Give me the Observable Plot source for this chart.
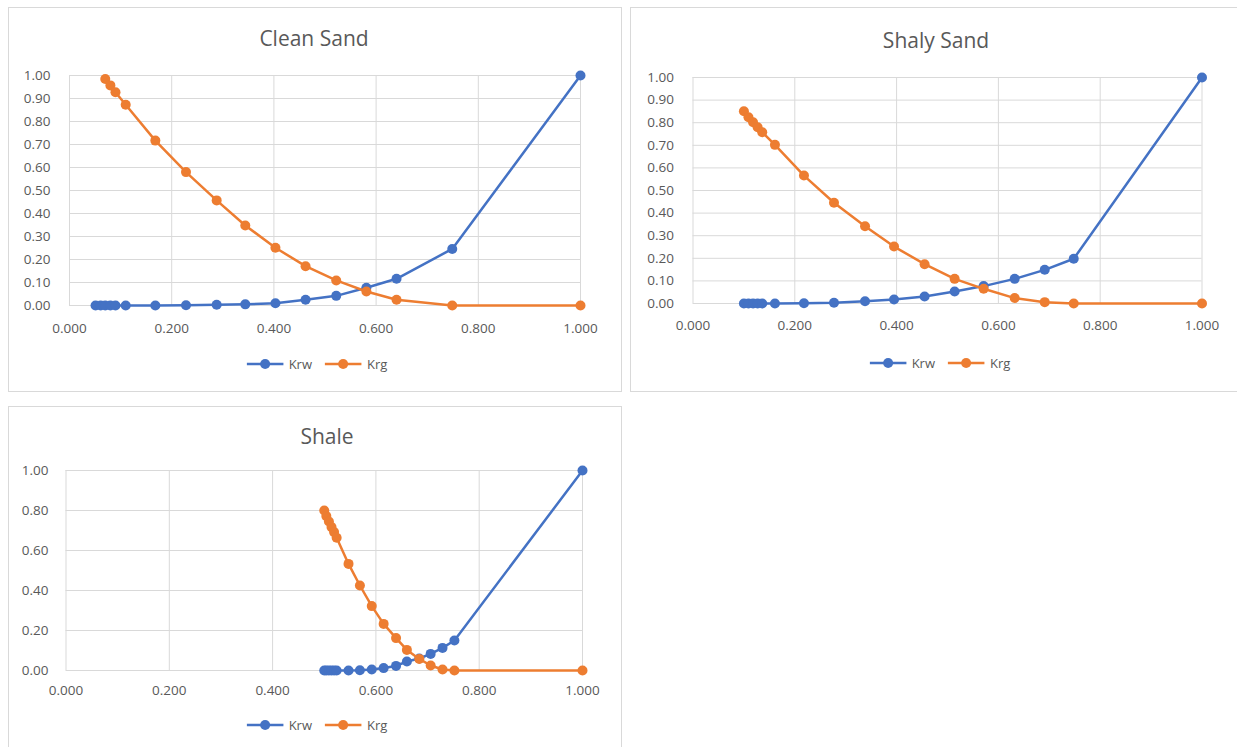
<!DOCTYPE html>
<html>
<head>
<meta charset="utf-8">
<script src="https://cdn.jsdelivr.net/npm/d3@7"></script>
<script src="https://cdn.jsdelivr.net/npm/@observablehq/plot@0.6"></script>
<style>
  html, body { margin: 0; padding: 0; background: #fff; }
  body { width: 1237px; height: 747px; position: relative; overflow: hidden;
         font-family: "Open Sans", "Noto Sans", sans-serif; color: #595959; }
  .panel { position: absolute; box-sizing: border-box; border: 1px solid #d9d9d9; background: #fff; }
  .panel > svg { position: absolute; }
  .title { position: absolute; transform: translate(-50%, -50%); font-size: 21px; white-space: nowrap; }
  .legend { position: absolute; transform: translate(-50%, -50%); display: flex; align-items: center;
            font-size: 13px; white-space: nowrap; }
  .legend .item { display: flex; align-items: center; }
  .legend .item + .item { margin-left: 13px; }
  .legend svg { display: block; margin-right: 5px; }
</style>
</head>
<body>
<script>
// Relative permeability curves: water (Krw) and gas (Krg) against water saturation (Sw)

const seriesNames = ["Krw", "Krg"];
const seriesColors = ["#4472C4", "#ED7D31"];

const xTicks = [0, 0.2, 0.4, 0.6, 0.8, 1.0];
const yTicksTenths = [0, 0.1, 0.2, 0.3, 0.4, 0.5, 0.6, 0.7, 0.8, 0.9, 1.0];
const yTicksFifths = [0, 0.2, 0.4, 0.6, 0.8, 1.0];

// Clean Sand
const cleanSw  = [0.051, 0.061, 0.070, 0.080, 0.090, 0.110, 0.168, 0.228, 0.288, 0.344, 0.403, 0.462, 0.522, 0.581, 0.640, 0.749, 1.000];
const cleanKrw = [0, 0, 0, 0, 0, 0, 0.000, 0.001, 0.003, 0.005, 0.010, 0.025, 0.042, 0.077, 0.116, 0.246, 1.000];
const cleanKrg = [null, null, 0.985, 0.957, 0.927, 0.873, 0.717, 0.580, 0.457, 0.348, 0.251, 0.171, 0.109, 0.061, 0.025, 0, 0];

// Shaly Sand
const shalySw  = [0.100, 0.109, 0.118, 0.127, 0.136, 0.161, 0.218, 0.277, 0.338, 0.395, 0.455, 0.514, 0.571, 0.632, 0.691, 0.748, 1.000];
const shalyKrw = [0, 0, 0, 0, 0, 0, 0.001, 0.003, 0.010, 0.018, 0.031, 0.053, 0.077, 0.109, 0.149, 0.198, 1.000];
const shalyKrg = [0.851, 0.824, 0.802, 0.780, 0.758, 0.702, 0.566, 0.446, 0.342, 0.252, 0.174, 0.109, 0.065, 0.024, 0.006, 0, 0];

// Shale
const shaleSw  = [0.500, 0.504, 0.509, 0.514, 0.519, 0.524, 0.547, 0.569, 0.592, 0.615, 0.639, 0.660, 0.684, 0.706, 0.729, 0.752, 1.000];
const shaleKrw = [0, 0, 0, 0, 0, 0, 0, 0.001, 0.005, 0.012, 0.023, 0.045, 0.060, 0.083, 0.113, 0.150, 1.000];
const shaleKrg = [0.800, 0.772, 0.745, 0.717, 0.692, 0.664, 0.533, 0.425, 0.322, 0.233, 0.162, 0.103, 0.058, 0.025, 0.005, 0, 0];

function rows(sw, krw, krg) {
  return sw.map((s, i) => ({sw: s, krw: krw[i], krg: krg[i]}));
}

function legendItem(name, color) {
  const item = document.createElement("div");
  item.className = "item";
  item.innerHTML =
    `<svg width="37" height="12"><line x1="0" y1="6" x2="37" y2="6" stroke="${color}" stroke-width="2.5"/>` +
    `<circle cx="18.5" cy="6" r="5" fill="${color}"/></svg><span>${name}</span>`;
  return item;
}

function drawPanel(cfg) {
  const panel = document.createElement("div");
  panel.className = "panel";
  Object.assign(panel.style, {
    left: cfg.box[0] + "px", top: cfg.box[1] + "px",
    width: cfg.box[2] + "px", height: cfg.box[3] + "px"
  });
  document.body.appendChild(panel);
  const ox = cfg.box[0] + 1, oy = cfg.box[1] + 1;

  const title = document.createElement("div");
  title.className = "title";
  title.textContent = cfg.title;
  title.style.left = (cfg.titleAt[0] - ox) + "px";
  title.style.top = (cfg.titleAt[1] - oy) + "px";
  panel.appendChild(title);

  const data = rows(cfg.sw, cfg.krw, cfg.krg);
  const [ml, mt, w, h, mr, mb] = cfg.plot;
  const chart = Plot.plot({
    width: w,
    height: h,
    marginLeft: ml,
    marginRight: mr,
    marginTop: mt,
    marginBottom: mb,
    style: {fontFamily: "'Open Sans', 'Noto Sans', sans-serif", fontSize: "13.5px", color: "#595959", background: "transparent", overflow: "visible"},
    x: {domain: [0, 1], ticks: xTicks, tickFormat: d3.format(".3f"), tickSize: 0, tickPadding: cfg.xPad, label: null},
    y: {domain: [0, 1], ticks: cfg.yTicks, tickFormat: d3.format(".2f"), tickSize: 0, tickPadding: cfg.yPad, label: null},
    marks: [
      Plot.ruleX(xTicks, {x: d => d, stroke: "#d9d9d9", strokeWidth: 1}),
      Plot.ruleY(cfg.yTicks, {y: d => d, stroke: "#d9d9d9", strokeWidth: 1}),
      Plot.line(data, {x: "sw", y: "krw", stroke: seriesColors[0], strokeWidth: 2.5}),
      Plot.dot(data, {x: "sw", y: "krw", r: 5, fill: seriesColors[0]}),
      Plot.line(data.filter(d => d.krg != null), {x: "sw", y: "krg", stroke: seriesColors[1], strokeWidth: 2.5}),
      Plot.dot(data.filter(d => d.krg != null), {x: "sw", y: "krg", r: 5, fill: seriesColors[1]})
    ]
  });
  chart.style.left = (cfg.plotAt[0] - ox) + "px";
  chart.style.top = (cfg.plotAt[1] - oy) + "px";
  panel.appendChild(chart);

  const legend = document.createElement("div");
  legend.className = "legend";
  legend.style.left = (cfg.legendAt[0] - ox) + "px";
  legend.style.top = (cfg.legendAt[1] - oy) + "px";
  seriesNames.forEach((n, i) => legend.appendChild(legendItem(n, seriesColors[i])));
  panel.appendChild(legend);
}

drawPanel({
  title: "Clean Sand", sw: cleanSw, krw: cleanKrw, krg: cleanKrg, yTicks: yTicksTenths,
  box: [8, 7, 614, 385], titleAt: [314, 38], legendAt: [317, 364],
  plotAt: [9, 50], plot: [60, 25, 612, 290, 41, 35], xPad: 18, yPad: 19
});

drawPanel({
  title: "Shaly Sand", sw: shalySw, krw: shalyKrw, krg: shalyKrg, yTicks: yTicksTenths,
  box: [630, 7, 610, 385], titleAt: [936, 40], legendAt: [940, 363],
  plotAt: [631, 50], plot: [61.5, 27, 606, 290, 35.5, 37], xPad: 17, yPad: 19
});

drawPanel({
  title: "Shale", sw: shaleSw, krw: shaleKrw, krg: shaleKrg, yTicks: yTicksFifths,
  box: [8, 406, 614, 380], titleAt: [327, 436], legendAt: [317, 725],
  plotAt: [9, 450], plot: [56.5, 20, 612, 260, 39, 40], xPad: 15, yPad: 17.5
});
</script>
</body>
</html>
